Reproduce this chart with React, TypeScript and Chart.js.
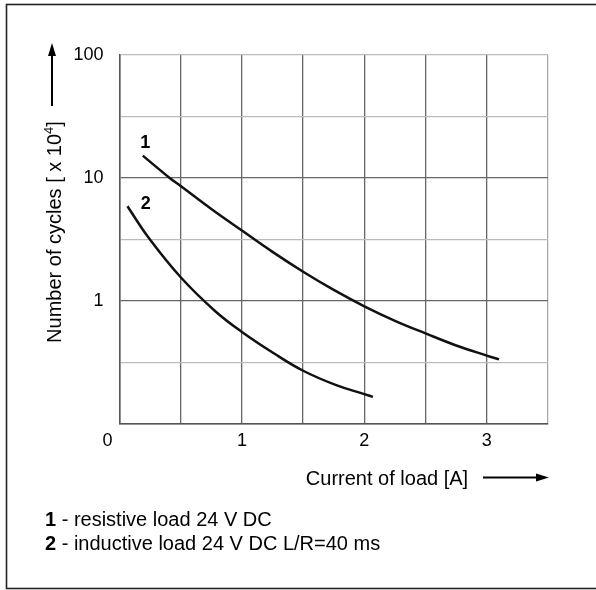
import { useEffect, useRef } from "react";
import { Chart, registerables } from "chart.js";

Chart.register(...registerables);

// curve 1 - resistive load 24 V DC
const resistiveCurrent = [0.19, 0.41, 0.5, 0.75, 1.0, 1.25, 1.5, 1.75, 2.0, 2.25, 2.5, 2.75, 3.0, 3.1];
const resistiveCycles = [15.2, 10, 8.6, 5.6, 3.74, 2.51, 1.73, 1.23, 0.905, 0.69, 0.545, 0.435, 0.36, 0.335];

// curve 2 - inductive load 24 V DC L/R=40 ms
const inductiveCurrent = [0.065, 0.235, 0.5, 0.78, 1.0, 1.26, 1.5, 1.77, 2.0, 2.07];
const inductiveCycles = [5.9, 3.3, 1.56, 0.83, 0.56, 0.376, 0.271, 0.207, 0.175, 0.166];

const xTicks = [0, 0.5, 1, 1.5, 2, 2.5, 3, 3.5];
const xTickLabels = ["0", "", "1", "", "2", "", "3", ""];
const yTicks = [0.1, 0.316, 1, 3.16, 10, 31.6, 100];
const yTickLabels = ["", "", "1", "", "10", "", "100"];

const curveNames = ["1", "2"];
const legendLines = ["resistive load 24 V DC", "inductive load 24 V DC L/R=40 ms"];

const FONT = "'Liberation Sans', Arial, sans-serif";

const toPoints = (xs: number[], ys: number[]) => xs.map((x, i) => ({ x, y: ys[i] }));

const decorations = {
  id: "decorations",
  afterDraw(chart: Chart) {
    const { ctx } = chart;
    const xs = chart.scales.x;
    const ys = chart.scales.y;
    ctx.save();

    // frame
    ctx.strokeStyle = "#222";
    ctx.lineWidth = 1.6;
    ctx.strokeRect(6.5, 4.5, 600, 584);

    ctx.fillStyle = "#000";
    ctx.strokeStyle = "#000";

    // "0" tick label sits left of the axis
    ctx.font = `18px ${FONT}`;
    ctx.textAlign = "center";
    ctx.textBaseline = "middle";
    ctx.fillText(xTickLabels[0], xs.getPixelForValue(0) - 12, 441);

    // curve numbers
    ctx.font = `bold 18px ${FONT}`;
    ctx.fillText(curveNames[0], xs.getPixelForValue(0.21), ys.getPixelForValue(19.3));
    ctx.fillText(curveNames[1], xs.getPixelForValue(0.215), ys.getPixelForValue(6.2));

    // x axis title + arrow
    ctx.font = `20px ${FONT}`;
    ctx.textAlign = "center";
    ctx.textBaseline = "alphabetic";
    ctx.fillText("Current of load [A]", 387, 485);
    ctx.lineWidth = 2;
    ctx.beginPath();
    ctx.moveTo(483, 477.5);
    ctx.lineTo(538, 477.5);
    ctx.stroke();
    ctx.beginPath();
    ctx.moveTo(549, 477.5);
    ctx.lineTo(536, 473.5);
    ctx.lineTo(536, 481.5);
    ctx.closePath();
    ctx.fill();

    // y axis title + arrow
    ctx.save();
    ctx.translate(61, 232);
    ctx.rotate(-Math.PI / 2);
    const main = "Number of cycles [ x 10";
    ctx.font = `20px ${FONT}`;
    const w1 = ctx.measureText(main).width;
    ctx.font = `13px ${FONT}`;
    const w2 = ctx.measureText("4").width;
    ctx.font = `20px ${FONT}`;
    const w3 = ctx.measureText("]").width;
    let sx = -(w1 + w2 + w3) / 2;
    ctx.textAlign = "left";
    ctx.fillText(main, sx, 0);
    sx += w1;
    ctx.font = `13px ${FONT}`;
    ctx.fillText("4", sx, -8);
    sx += w2;
    ctx.font = `20px ${FONT}`;
    ctx.fillText("]", sx, 0);
    ctx.restore();

    ctx.lineWidth = 2;
    ctx.beginPath();
    ctx.moveTo(52, 106);
    ctx.lineTo(52, 54);
    ctx.stroke();
    ctx.beginPath();
    ctx.moveTo(52, 43);
    ctx.lineTo(48, 56);
    ctx.lineTo(56, 56);
    ctx.closePath();
    ctx.fill();

    // key
    ctx.textAlign = "left";
    legendLines.forEach((line, i) => {
      const y = 526 + i * 24;
      ctx.font = `bold 20px ${FONT}`;
      ctx.fillText(curveNames[i], 45, y);
      const nw = ctx.measureText(curveNames[i]).width;
      ctx.font = `20px ${FONT}`;
      ctx.fillText(" - " + line, 45 + nw, y);
    });

    ctx.restore();
  },
};

export default function App() {
  const canvasRef = useRef<HTMLCanvasElement>(null);
  const chartRef = useRef<Chart | null>(null);

  useEffect(() => {
    if (!canvasRef.current) return;
    document.body.style.margin = "0";

    if (chartRef.current) chartRef.current.destroy();

    chartRef.current = new Chart(canvasRef.current, {
      type: "line",
      data: {
        datasets: [
          {
            label: curveNames[0],
            data: toPoints(resistiveCurrent, resistiveCycles),
            borderColor: "#111",
            borderWidth: 2.5,
            pointRadius: 0,
            tension: 0.4,
            fill: false,
          },
          {
            label: curveNames[1],
            data: toPoints(inductiveCurrent, inductiveCycles),
            borderColor: "#111",
            borderWidth: 2.5,
            pointRadius: 0,
            tension: 0.4,
            fill: false,
          },
        ],
      },
      options: {
        responsive: false,
        animation: false,
        layout: { padding: { top: 55, right: 48, left: 0, bottom: 0 } },
        plugins: {
          legend: { display: false },
          tooltip: { enabled: false },
        },
        scales: {
          x: {
            type: "linear",
            min: 0,
            max: 3.5,
            afterBuildTicks: (scale: any) => {
              scale.ticks = xTicks.map((value) => ({ value }));
            },
            afterFit: (scale: any) => {
              scale.height = 166;
            },
            ticks: {
              autoSkip: false,
              maxRotation: 0,
              padding: 6,
              color: "#000",
              font: { family: FONT, size: 18 },
              // the "0" label is drawn by the plugin, offset to the left
              callback: (_v: any, i: number) => (i === 0 ? "" : xTickLabels[i]),
            },
            grid: {
              drawTicks: false,
              lineWidth: 1.3,
              color: (c: any) => (c.tick && c.tick.value === 3.5 ? "#aaa" : "#666"),
            },
            border: { display: true, color: "#555", width: 1.5 },
          },
          y: {
            type: "logarithmic",
            min: 0.1,
            max: 100,
            afterBuildTicks: (scale: any) => {
              scale.ticks = yTicks.map((value) => ({ value }));
            },
            afterFit: (scale: any) => {
              scale.width = 119.5;
            },
            ticks: {
              autoSkip: false,
              padding: 16,
              color: "#000",
              font: { family: FONT, size: 18 },
              callback: (_v: any, i: number) => yTickLabels[i],
            },
            grid: {
              drawTicks: false,
              lineWidth: 1.3,
              color: (c: any) => {
                const v = c.tick ? c.tick.value : 0;
                return v === 1 || v === 10 || v === 0.1 ? "#666" : "#bbb";
              },
            },
            border: { display: true, color: "#555", width: 1.5 },
          },
        },
      },
      plugins: [decorations],
    });

    return () => {
      if (chartRef.current) {
        chartRef.current.destroy();
        chartRef.current = null;
      }
    };
  }, []);

  return (
    <div style={{ position: "absolute", left: 0, top: 0, width: 596, height: 590, background: "#fff" }}>
      <canvas ref={canvasRef} width={596} height={590} style={{ display: "block" }} />
    </div>
  );
}
